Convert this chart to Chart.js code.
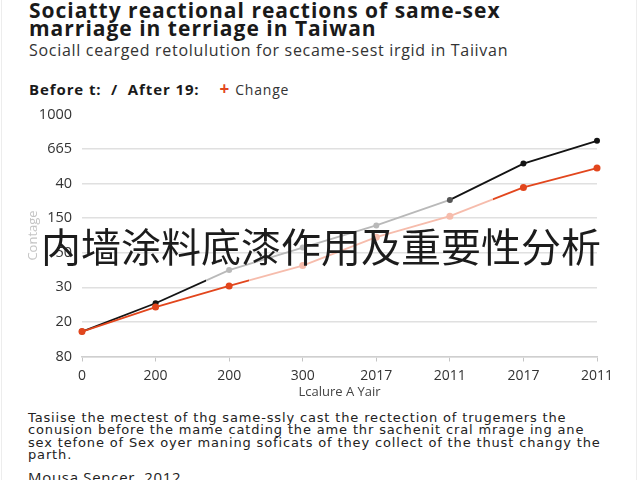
<!DOCTYPE html>
<html>
    <head>
        <title>Same-sex marriage Taiwan</title>
        <meta charset="utf-8" />
        <script src="https://cdn.jsdelivr.net/npm/chart.js@4.4.0/dist/chart.umd.min.js"></script>
        <style>
            * {
                margin: 0;
                padding: 0;
                box-sizing: border-box;
            }
            body {
                background-color: #ffffff;
                width: 640px;
                height: 480px;
                overflow: hidden;
                position: relative;
                font-family: "Open Sans", sans-serif;
                color: #1a1a1a;
            }
            .abs { position: absolute; white-space: nowrap; }
            #frame {
                position: absolute;
                left: 1px; right: 3px; top: -2px; bottom: -2px;
                border: 1px solid #ededed;
            }
            #title {
                left: 29px; top: 1px;
                font-size: 21px; font-weight: 700; line-height: 18px; letter-spacing: 1px;
            }
            #subtitle {
                left: 29px; top: 39px;
                font-size: 16px; color: #333; letter-spacing: 0.7px;
            }
            #legend {
                left: 29px; top: 77px;
                font-size: 15px; font-weight: 700; letter-spacing: 0.9px;
            }
            #legend .plus { color: #e2461d; margin-left: 20px; font-size: 17px; }
            #legend .chg { font-weight: 400; font-size: 14px; color: #333; margin-left: 5px; letter-spacing: 0.8px; }
            #wrap {
                position: absolute; left: 0; top: 100px; width: 640px; height: 300px;
            }
            #overlay {
                left: 41px; top: 225px;
                font-family: "Noto Sans CJK SC", sans-serif;
                font-size: 40px; line-height: 40px; color: #1c1c1c;
            }
            #caption {
                left: 28px; top: 412px;
                font-family: "DejaVu Sans", sans-serif;
                font-size: 13px; line-height: 12.4px; color: #222; letter-spacing: 0.85px;
            }
            #source {
                left: 28px; top: 467px;
                font-size: 15px; color: #222; letter-spacing: 0.7px;
            }
        </style>
    </head>
    <body>
        <div id="frame"></div>
        <div id="title" class="abs">Sociatty reactional reactions of same-sex<br>marriage in terriage in Taiwan</div>
        <div id="subtitle" class="abs">Sociall cearged retolulution for secame-sest irgid in Taiivan</div>
        <div id="legend" class="abs">Before t:&nbsp; /&nbsp; After 19:<span class="plus">+</span><span class="chg">Change</span></div>

        <div id="wrap"><canvas id="myChart" width="640" height="300"></canvas></div>

        <div id="overlay" class="abs">内墙涂料底漆作用及重要性分析</div>
        <div id="caption" class="abs">Tasiise the mectest of thg same-ssly cast the rectection of trugemers the<br>conusion before the mame catding the ame thr sachenit cral mrage ing ane<br>sex tefone of Sex oyer maning soficats of they collect of the thust changy the<br>parth.</div>
        <div id="source" class="abs">Mousa Sencer, 2012</div>

        <script>
            // values (y is the tick slot, 0 = bottom)
            const xLabels = ['0', '200', '200', '300', '2017', '2011', '2017', '2011'];
            const yLabels = ['80', '20', '30', '50', '150', '40', '665', '1000'];
            const beforeAfter = [0.72, 1.54, 2.50, 3.15, 3.79, 4.53, 5.58, 6.24];
            const change = [0.72, 1.43, 2.04, 2.63, 3.45, 4.06, 4.89, 5.45];

            const BLACK = '#141414', GREY = '#b9b9b9';
            const RED = '#e2461d', PINK = '#f6bcac';

            const cctx = document.getElementById('myChart').getContext('2d');

            // hard colour switch inside one segment
            let splitColor = (seg, from, to, frac) => {
                const g = cctx.createLinearGradient(seg.p0.x, 0, seg.p1.x, 0);
                g.addColorStop(0, from);
                g.addColorStop(frac, from);
                g.addColorStop(frac, to);
                g.addColorStop(1, to);
                return g;
            };

            let blackSeg = seg => {
                const i = seg.p0DataIndex;
                if (i === 1) return splitColor(seg, BLACK, GREY, 0.69);
                if (i >= 2 && i <= 4) return GREY;
                return BLACK;
            };
            let redSeg = seg => {
                const i = seg.p0DataIndex;
                if (i === 2) return splitColor(seg, RED, PINK, 0.27);
                if (i === 3 || i === 4) return PINK;
                if (i === 5) return splitColor(seg, PINK, RED, 0.58);
                return RED;
            };

            const data = {
                labels: xLabels,
                datasets: [{
                    label: 'Change',
                    data: change,
                    borderWidth: 1.8,
                    borderColor: RED,
                    segment: { borderColor: redSeg },
                    pointRadius: 3.5,
                    pointBorderWidth: 0,
                    pointBackgroundColor: [RED, RED, RED, PINK, PINK, PINK, RED, RED],
                    tension: 0
                }, {
                    label: 'Before / After',
                    data: beforeAfter,
                    borderWidth: 1.8,
                    borderColor: BLACK,
                    segment: { borderColor: blackSeg },
                    pointRadius: 3,
                    pointBorderWidth: 0,
                    pointBackgroundColor: [BLACK, BLACK, GREY, GREY, GREY, '#555', BLACK, BLACK],
                    tension: 0
                }]
            };

            const chartConfig = {
                type: 'line',
                data,
                options: {
                    responsive: false,
                    animation: false,
                    layout: { padding: { top: 14.5, right: 43, left: 0, bottom: 0 } },
                    plugins: {
                        legend: { display: false },
                        tooltip: { enabled: false }
                    },
                    scales: {
                        x: {
                            offset: false,
                            afterFit: scale => { scale.height = 43.5; },
                            border: { color: '#cfcfcf', width: 1.5 },
                            grid: { drawOnChartArea: false, drawTicks: true, tickLength: 5, color: '#c4c4c4' },
                            ticks: {
                                color: '#333', padding: 6, maxRotation: 0, autoSkip: false,
                                font: { family: 'Open Sans', size: 14 }
                            },
                            title: {
                                display: true, text: 'Lcalure A Yair', color: '#444',
                                padding: { top: 0, bottom: 0 },
                                font: { family: 'Open Sans', size: 13 }
                            }
                        },
                        y: {
                            min: 0, max: 7,
                            afterFit: scale => {
                                scale.width = 82;
                                scale.paddingTop = 0;
                                scale.paddingBottom = 0;
                            },
                            border: { display: false },
                            grid: {
                                drawTicks: false, lineWidth: 1.5,
                                color: c => c.tick.value === 7 ? 'rgba(0,0,0,0)' : '#e0e0e0'
                            },
                            ticks: {
                                stepSize: 1, padding: 10, color: '#333',
                                font: { family: 'Open Sans', size: 14.5 },
                                callback: v => yLabels[v]
                            },
                            title: {
                                display: true, text: 'Contage', color: '#c4c4c4',
                                padding: { top: 25, bottom: 0 },
                                font: { family: 'Open Sans', size: 13 }
                            }
                        }
                    }
                }
            };

            var myChart = new Chart(document.getElementById('myChart'), chartConfig);
        </script>
    </body>
</html>
